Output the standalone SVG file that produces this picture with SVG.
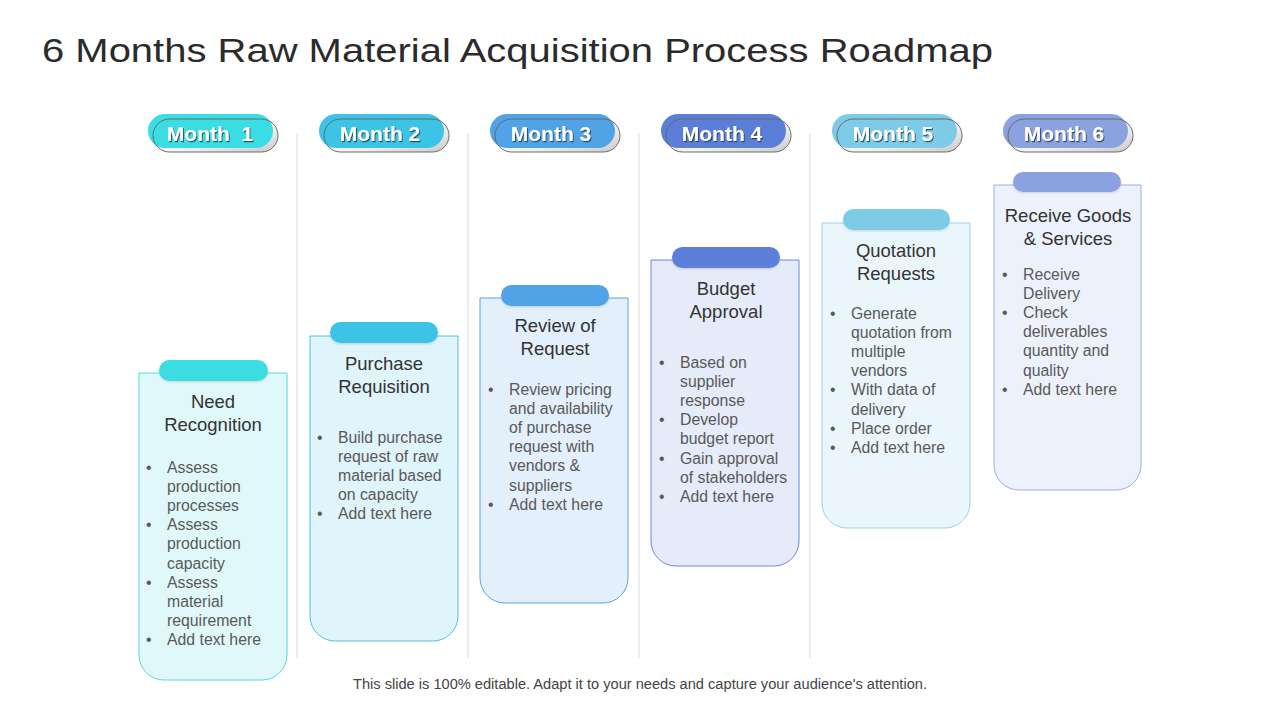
<svg xmlns="http://www.w3.org/2000/svg" width="1280" height="720" viewBox="0 0 1280 720">
<defs>
<linearGradient id="pillShade" x1="0" y1="0" x2="1" y2="1">
<stop offset="0" stop-color="#ffffff"/>
<stop offset="0.6" stop-color="#f2f2f2"/>
<stop offset="1" stop-color="#c8c8c8"/>
</linearGradient>
<filter id="ts" x="-10%" y="-30%" width="120%" height="160%">
<feDropShadow dx="1" dy="1.2" stdDeviation="0.6" flood-color="#1a3a4a" flood-opacity="0.85"/>
</filter>
<filter id="tabsh" x="-10%" y="-40%" width="120%" height="180%">
<feDropShadow dx="0" dy="1" stdDeviation="1.2" flood-color="#000" flood-opacity="0.15"/>
</filter>
</defs>
<style>
.title{font-family:"Liberation Sans",Arial,sans-serif;font-size:33px;fill:#2b2b2b}
.foot{font-family:"Liberation Sans",Arial,sans-serif;font-size:14px;fill:#444}
.mtxt{font-family:"Liberation Sans",Arial,sans-serif;font-size:21px;font-weight:bold;fill:#fff;text-anchor:middle;white-space:pre}
.ol{fill:none;stroke:#6a6a6a;stroke-width:1}
.sep{stroke:#dcdcdc;stroke-width:1}
.ct{font-family:"Liberation Sans",Arial,sans-serif;font-size:18.5px;fill:#333;text-anchor:middle}
.bt{font-family:"Liberation Sans",Arial,sans-serif;font-size:15.8px;fill:#595959}
</style>
<rect width="1280" height="720" fill="#fff"/>
<text class="title" x="42" y="62" textLength="951" lengthAdjust="spacingAndGlyphs">6 Months Raw Material Acquisition Process Roadmap</text>

<g id="separators">
<line class="sep" x1="297" y1="133" x2="297" y2="658"/>
<line class="sep" x1="468" y1="133" x2="468" y2="658"/>
<line class="sep" x1="639" y1="133" x2="639" y2="658"/>
<line class="sep" x1="810" y1="133" x2="810" y2="658"/>
</g>

<g id="month1">
<rect x="153" y="119" width="125" height="33" rx="16.5" fill="url(#pillShade)"/>
<rect x="148" y="114" width="125" height="34" rx="17" fill="#3adde3"/>
<rect class="ol" x="153" y="119" width="125" height="33" rx="16.5"/>
<text class="mtxt" x="210" y="141" filter="url(#ts)">Month  1</text>
</g>
<g id="month2">
<rect x="324" y="119" width="125" height="33" rx="16.5" fill="url(#pillShade)"/>
<rect x="319" y="114" width="125" height="34" rx="17" fill="#3bc4e6"/>
<rect class="ol" x="324" y="119" width="125" height="33" rx="16.5"/>
<text class="mtxt" x="380" y="141" filter="url(#ts)">Month 2</text>
</g>
<g id="month3">
<rect x="495" y="119" width="125" height="33" rx="16.5" fill="url(#pillShade)"/>
<rect x="490" y="114" width="125" height="34" rx="17" fill="#4fa3e6"/>
<rect class="ol" x="495" y="119" width="125" height="33" rx="16.5"/>
<text class="mtxt" x="551" y="141" filter="url(#ts)">Month 3</text>
</g>
<g id="month4">
<rect x="666" y="119" width="125" height="33" rx="16.5" fill="url(#pillShade)"/>
<rect x="661" y="114" width="125" height="34" rx="17" fill="#5b7fd9"/>
<rect class="ol" x="666" y="119" width="125" height="33" rx="16.5"/>
<text class="mtxt" x="722" y="141" filter="url(#ts)">Month 4</text>
</g>
<g id="month5">
<rect x="837" y="119" width="125" height="33" rx="16.5" fill="url(#pillShade)"/>
<rect x="832" y="114" width="125" height="34" rx="17" fill="#7ecbe8"/>
<rect class="ol" x="837" y="119" width="125" height="33" rx="16.5"/>
<text class="mtxt" x="893" y="141" filter="url(#ts)">Month 5</text>
</g>
<g id="month6">
<rect x="1008" y="119" width="125" height="33" rx="16.5" fill="url(#pillShade)"/>
<rect x="1003" y="114" width="125" height="34" rx="17" fill="#8aa3e0"/>
<rect class="ol" x="1008" y="119" width="125" height="33" rx="16.5"/>
<text class="mtxt" x="1064" y="141" filter="url(#ts)">Month 6</text>
</g>

<g id="card1">
<path d="M139,373 H287 V655 A25,25 0 0 1 262,680 H164 A25,25 0 0 1 139,655 Z" fill="#e0f8fa" stroke="#5ad8df" stroke-width="1"/>
<rect x="159" y="360" width="109" height="21" rx="10.5" fill="#3adde3" filter="url(#tabsh)"/>
<text class="ct"><tspan x="213" y="408">Need</tspan><tspan x="213" y="431">Recognition</tspan></text>
<text class="bt"><tspan x="146" y="473">•</tspan><tspan x="146" y="530.3">•</tspan><tspan x="146" y="587.6">•</tspan><tspan x="146" y="644.9">•</tspan></text>
<text class="bt"><tspan x="167" y="473">Assess</tspan><tspan x="167" dy="19.1">production</tspan><tspan x="167" dy="19.1">processes</tspan><tspan x="167" dy="19.1">Assess</tspan><tspan x="167" dy="19.1">production</tspan><tspan x="167" dy="19.1">capacity</tspan><tspan x="167" dy="19.1">Assess</tspan><tspan x="167" dy="19.1">material</tspan><tspan x="167" dy="19.1">requirement</tspan><tspan x="167" dy="19.1">Add text here</tspan></text>
</g>

<g id="card2">
<path d="M310,336 H458 V616 A25,25 0 0 1 433,641 H335 A25,25 0 0 1 310,616 Z" fill="#e0f4fb" stroke="#4dc3e3" stroke-width="1"/>
<rect x="330" y="322" width="108" height="21" rx="10.5" fill="#3bc4e6" filter="url(#tabsh)"/>
<text class="ct"><tspan x="384" y="370">Purchase</tspan><tspan x="384" y="393">Requisition</tspan></text>
<text class="bt"><tspan x="317" y="443">•</tspan><tspan x="317" y="519.4">•</tspan></text>
<text class="bt"><tspan x="338" y="443">Build purchase</tspan><tspan x="338" dy="19.1">request of raw</tspan><tspan x="338" dy="19.1">material based</tspan><tspan x="338" dy="19.1">on capacity</tspan><tspan x="338" dy="19.1">Add text here</tspan></text>
</g>

<g id="card3">
<path d="M480,298 H628 V578 A25,25 0 0 1 603,603 H505 A25,25 0 0 1 480,578 Z" fill="#e3effa" stroke="#5fa3dd" stroke-width="1"/>
<rect x="501" y="285" width="108" height="21" rx="10.5" fill="#4fa3e6" filter="url(#tabsh)"/>
<text class="ct"><tspan x="555" y="332">Review of</tspan><tspan x="555" y="355">Request</tspan></text>
<text class="bt"><tspan x="488" y="395">•</tspan><tspan x="488" y="509.6">•</tspan></text>
<text class="bt"><tspan x="509" y="395">Review pricing</tspan><tspan x="509" dy="19.1">and availability</tspan><tspan x="509" dy="19.1">of purchase</tspan><tspan x="509" dy="19.1">request with</tspan><tspan x="509" dy="19.1">vendors &amp;</tspan><tspan x="509" dy="19.1">suppliers</tspan><tspan x="509" dy="19.1">Add text here</tspan></text>
</g>

<g id="card4">
<path d="M651,260 H799 V541 A25,25 0 0 1 774,566 H676 A25,25 0 0 1 651,541 Z" fill="#e5ebf8" stroke="#6d8ad8" stroke-width="1"/>
<rect x="672" y="247" width="108" height="21" rx="10.5" fill="#5b7fd9" filter="url(#tabsh)"/>
<text class="ct"><tspan x="726" y="295">Budget</tspan><tspan x="726" y="318">Approval</tspan></text>
<text class="bt"><tspan x="659" y="368">•</tspan><tspan x="659" y="425.3">•</tspan><tspan x="659" y="463.5">•</tspan><tspan x="659" y="501.7">•</tspan></text>
<text class="bt"><tspan x="680" y="368">Based on</tspan><tspan x="680" dy="19.1">supplier</tspan><tspan x="680" dy="19.1">response</tspan><tspan x="680" dy="19.1">Develop</tspan><tspan x="680" dy="19.1">budget report</tspan><tspan x="680" dy="19.1">Gain approval</tspan><tspan x="680" dy="19.1">of stakeholders</tspan><tspan x="680" dy="19.1">Add text here</tspan></text>
</g>

<g id="card5">
<path d="M822,223 H970 V503 A25,25 0 0 1 945,528 H847 A25,25 0 0 1 822,503 Z" fill="#eaf6fc" stroke="#9ad3ea" stroke-width="1"/>
<rect x="843" y="209" width="107" height="21" rx="10.5" fill="#7ecbe8" filter="url(#tabsh)"/>
<text class="ct"><tspan x="896" y="257">Quotation</tspan><tspan x="896" y="280">Requests</tspan></text>
<text class="bt"><tspan x="830" y="319">•</tspan><tspan x="830" y="395.4">•</tspan><tspan x="830" y="433.6">•</tspan><tspan x="830" y="452.7">•</tspan></text>
<text class="bt"><tspan x="851" y="319">Generate</tspan><tspan x="851" dy="19.1">quotation from</tspan><tspan x="851" dy="19.1">multiple</tspan><tspan x="851" dy="19.1">vendors</tspan><tspan x="851" dy="19.1">With data of</tspan><tspan x="851" dy="19.1">delivery</tspan><tspan x="851" dy="19.1">Place order</tspan><tspan x="851" dy="19.1">Add text here</tspan></text>
</g>

<g id="card6">
<path d="M994,185 H1141 V465 A25,25 0 0 1 1116,490 H1019 A25,25 0 0 1 994,465 Z" fill="#edf1fb" stroke="#9db0e3" stroke-width="1"/>
<rect x="1013" y="172" width="108" height="20" rx="10" fill="#8aa3e0" filter="url(#tabsh)"/>
<text class="ct"><tspan x="1068" y="222">Receive Goods</tspan><tspan x="1068" y="245">&amp; Services</tspan></text>
<text class="bt"><tspan x="1002" y="280">•</tspan><tspan x="1002" y="318.2">•</tspan><tspan x="1002" y="394.6">•</tspan></text>
<text class="bt"><tspan x="1023" y="280">Receive</tspan><tspan x="1023" dy="19.1">Delivery</tspan><tspan x="1023" dy="19.1">Check</tspan><tspan x="1023" dy="19.1">deliverables</tspan><tspan x="1023" dy="19.1">quantity and</tspan><tspan x="1023" dy="19.1">quality</tspan><tspan x="1023" dy="19.1">Add text here</tspan></text>
</g>

<text class="foot" x="353" y="689" textLength="574" lengthAdjust="spacingAndGlyphs">This slide is 100% editable. Adapt it to your needs and capture your audience's attention.</text>
</svg>
